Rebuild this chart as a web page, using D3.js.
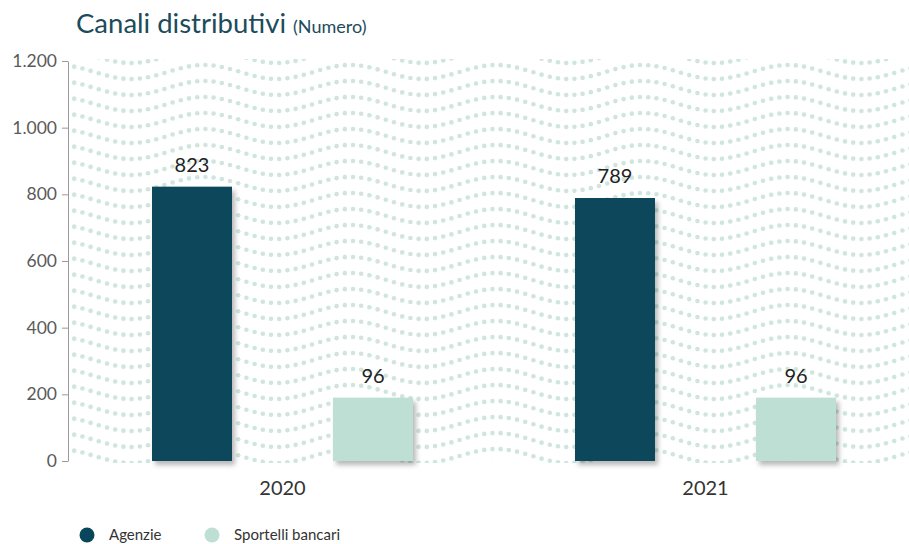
<!DOCTYPE html>
<html>
<head>
<meta charset="utf-8">
<script src="https://cdn.jsdelivr.net/npm/d3@7"></script>
<style>
	body { margin: 0; background: #fff; }
	text { font-family: Lato, "Noto Sans", sans-serif; }
</style>
</head>
<body>
<div id="chart"></div>
<script>
// Chart data
const years = ["2020", "2021"];
const seriesNames = ["Agenzie", "Sportelli bancari"];
const agenzie = [823, 789];
const sportelli = [96, 96];
// in the source the "Sportelli bancari" bars are drawn taller than their label (about 190 on the axis)
const sportelliDrawn = [190, 190];
const yTicks = [0, 200, 400, 600, 800, 1000, 1200];

(function (d3) {
	"use strict";

	const width = 909, height = 544;
	const colors = { "Agenzie": "#08475b", "Sportelli bancari": "#bedfd3" };

	const svg = d3.select("#chart")
		.append("svg")
		.attr("width", width)
		.attr("height", height);

	const defs = svg.append("defs");
	const shadow = defs.append("filter")
		.attr("id", "barShadow")
		.attr("x", "-20%").attr("y", "-20%")
		.attr("width", "150%").attr("height", "150%");
	shadow.append("feDropShadow")
		.attr("dx", 3).attr("dy", 4)
		.attr("stdDeviation", 2.5)
		.attr("flood-color", "#000")
		.attr("flood-opacity", 0.28);
	defs.append("clipPath").attr("id", "plotClip")
		.append("rect")
		.attr("x", 70).attr("y", 59)
		.attr("width", width - 70).attr("height", 404);

	/*** scales ***/
	const y = d3.scaleLinear().domain([0, 1200]).range([461, 61]);
	const x0 = d3.scaleBand().domain(years).range([71, 917]);
	const x1 = d3.scaleBand().domain(seriesNames)
		.range([0, x0.bandwidth()])
		.paddingInner(0.558)
		.paddingOuter(0.4475);

	/*** wavy dotted background (decoration) ***/
	const bg = svg.append("g").attr("clip-path", "url(#plotClip)");
	const dots = [];
	for (let cy = 56; cy < 475; cy += 16) {
		for (let cx = 66; cx < width + 6; cx += 8.2) {
			dots.push([cx, cy - 7 * Math.cos(2 * Math.PI * (cx - 350) / 146)]);
		}
	}
	bg.selectAll("circle")
		.data(dots)
		.enter().append("circle")
		.attr("cx", d => d[0])
		.attr("cy", d => d[1])
		.attr("r", 2.3)
		.attr("fill", "#cfe5dd");

	/*** y axis ***/
	const it = d3.formatLocale({ decimal: ",", thousands: ".", grouping: [3], currency: ["", "€"] });
	const yAxis = svg.append("g")
		.attr("transform", "translate(68,0)")
		.call(d3.axisLeft(y).tickValues(yTicks).tickSize(6).tickSizeOuter(0).tickFormat(it.format(",")));
	yAxis.select(".domain").attr("stroke", "#9a9a9a");
	yAxis.selectAll(".tick line").attr("stroke", "#9a9a9a");
	yAxis.selectAll(".tick text")
		.attr("x", -11)
		.attr("fill", "#5a5a5a")
		.style("font-size", "17.5px")
		.style("font-family", "Lato, sans-serif");

	/*** bars ***/
	const rows = years.map((yr, i) => ({
		year: yr,
		values: [
			{ name: seriesNames[0], label: agenzie[i], drawn: agenzie[i] },
			{ name: seriesNames[1], label: sportelli[i], drawn: sportelliDrawn[i] }
		]
	}));

	const groups = svg.selectAll(".year")
		.data(rows)
		.enter().append("g")
		.attr("class", "year")
		.attr("transform", d => "translate(" + x0(d.year) + ",0)");

	groups.selectAll("rect")
		.data(d => d.values)
		.enter().append("rect")
		.attr("x", d => x1(d.name))
		.attr("y", d => y(d.drawn))
		.attr("width", x1.bandwidth())
		.attr("height", d => y(0) - y(d.drawn))
		.attr("fill", d => colors[d.name])
		.attr("filter", "url(#barShadow)");

	groups.selectAll(".val")
		.data(d => d.values)
		.enter().append("text")
		.attr("class", "val")
		.attr("x", d => x1(d.name) + x1.bandwidth() / 2)
		.attr("y", d => y(d.drawn) - 15)
		.attr("text-anchor", "middle")
		.attr("fill", "#222")
		.style("font-size", "20px")
		.text(d => d.label);

	/*** x labels ***/
	svg.selectAll(".xlab")
		.data(years)
		.enter().append("text")
		.attr("class", "xlab")
		.attr("x", d => x0(d) + x0.bandwidth() / 2)
		.attr("y", 495)
		.attr("text-anchor", "middle")
		.attr("fill", "#333")
		.style("font-size", "20px")
		.text(d => d);

	/*** title ***/
	const title = svg.append("text")
		.attr("x", 76)
		.attr("y", 33)
		.attr("fill", "#1c4c5b")
		.style("font-size", "27.5px");
	title.append("tspan").text("Canali distributivi ");
	title.append("tspan").style("font-size", "18px").text("(Numero)");

	/*** legend ***/
	const legendX = [87, 212];
	const legend = svg.selectAll(".legend")
		.data(seriesNames)
		.enter().append("g")
		.attr("class", "legend")
		.attr("transform", (d, i) => "translate(" + legendX[i] + ",535)");
	legend.append("circle")
		.attr("r", 7.5)
		.attr("fill", d => colors[d]);
	legend.append("text")
		.attr("x", 22)
		.attr("y", 5)
		.attr("fill", "#333")
		.style("font-size", "15px")
		.text(d => d);

})(d3);
</script>
</body>
</html>
